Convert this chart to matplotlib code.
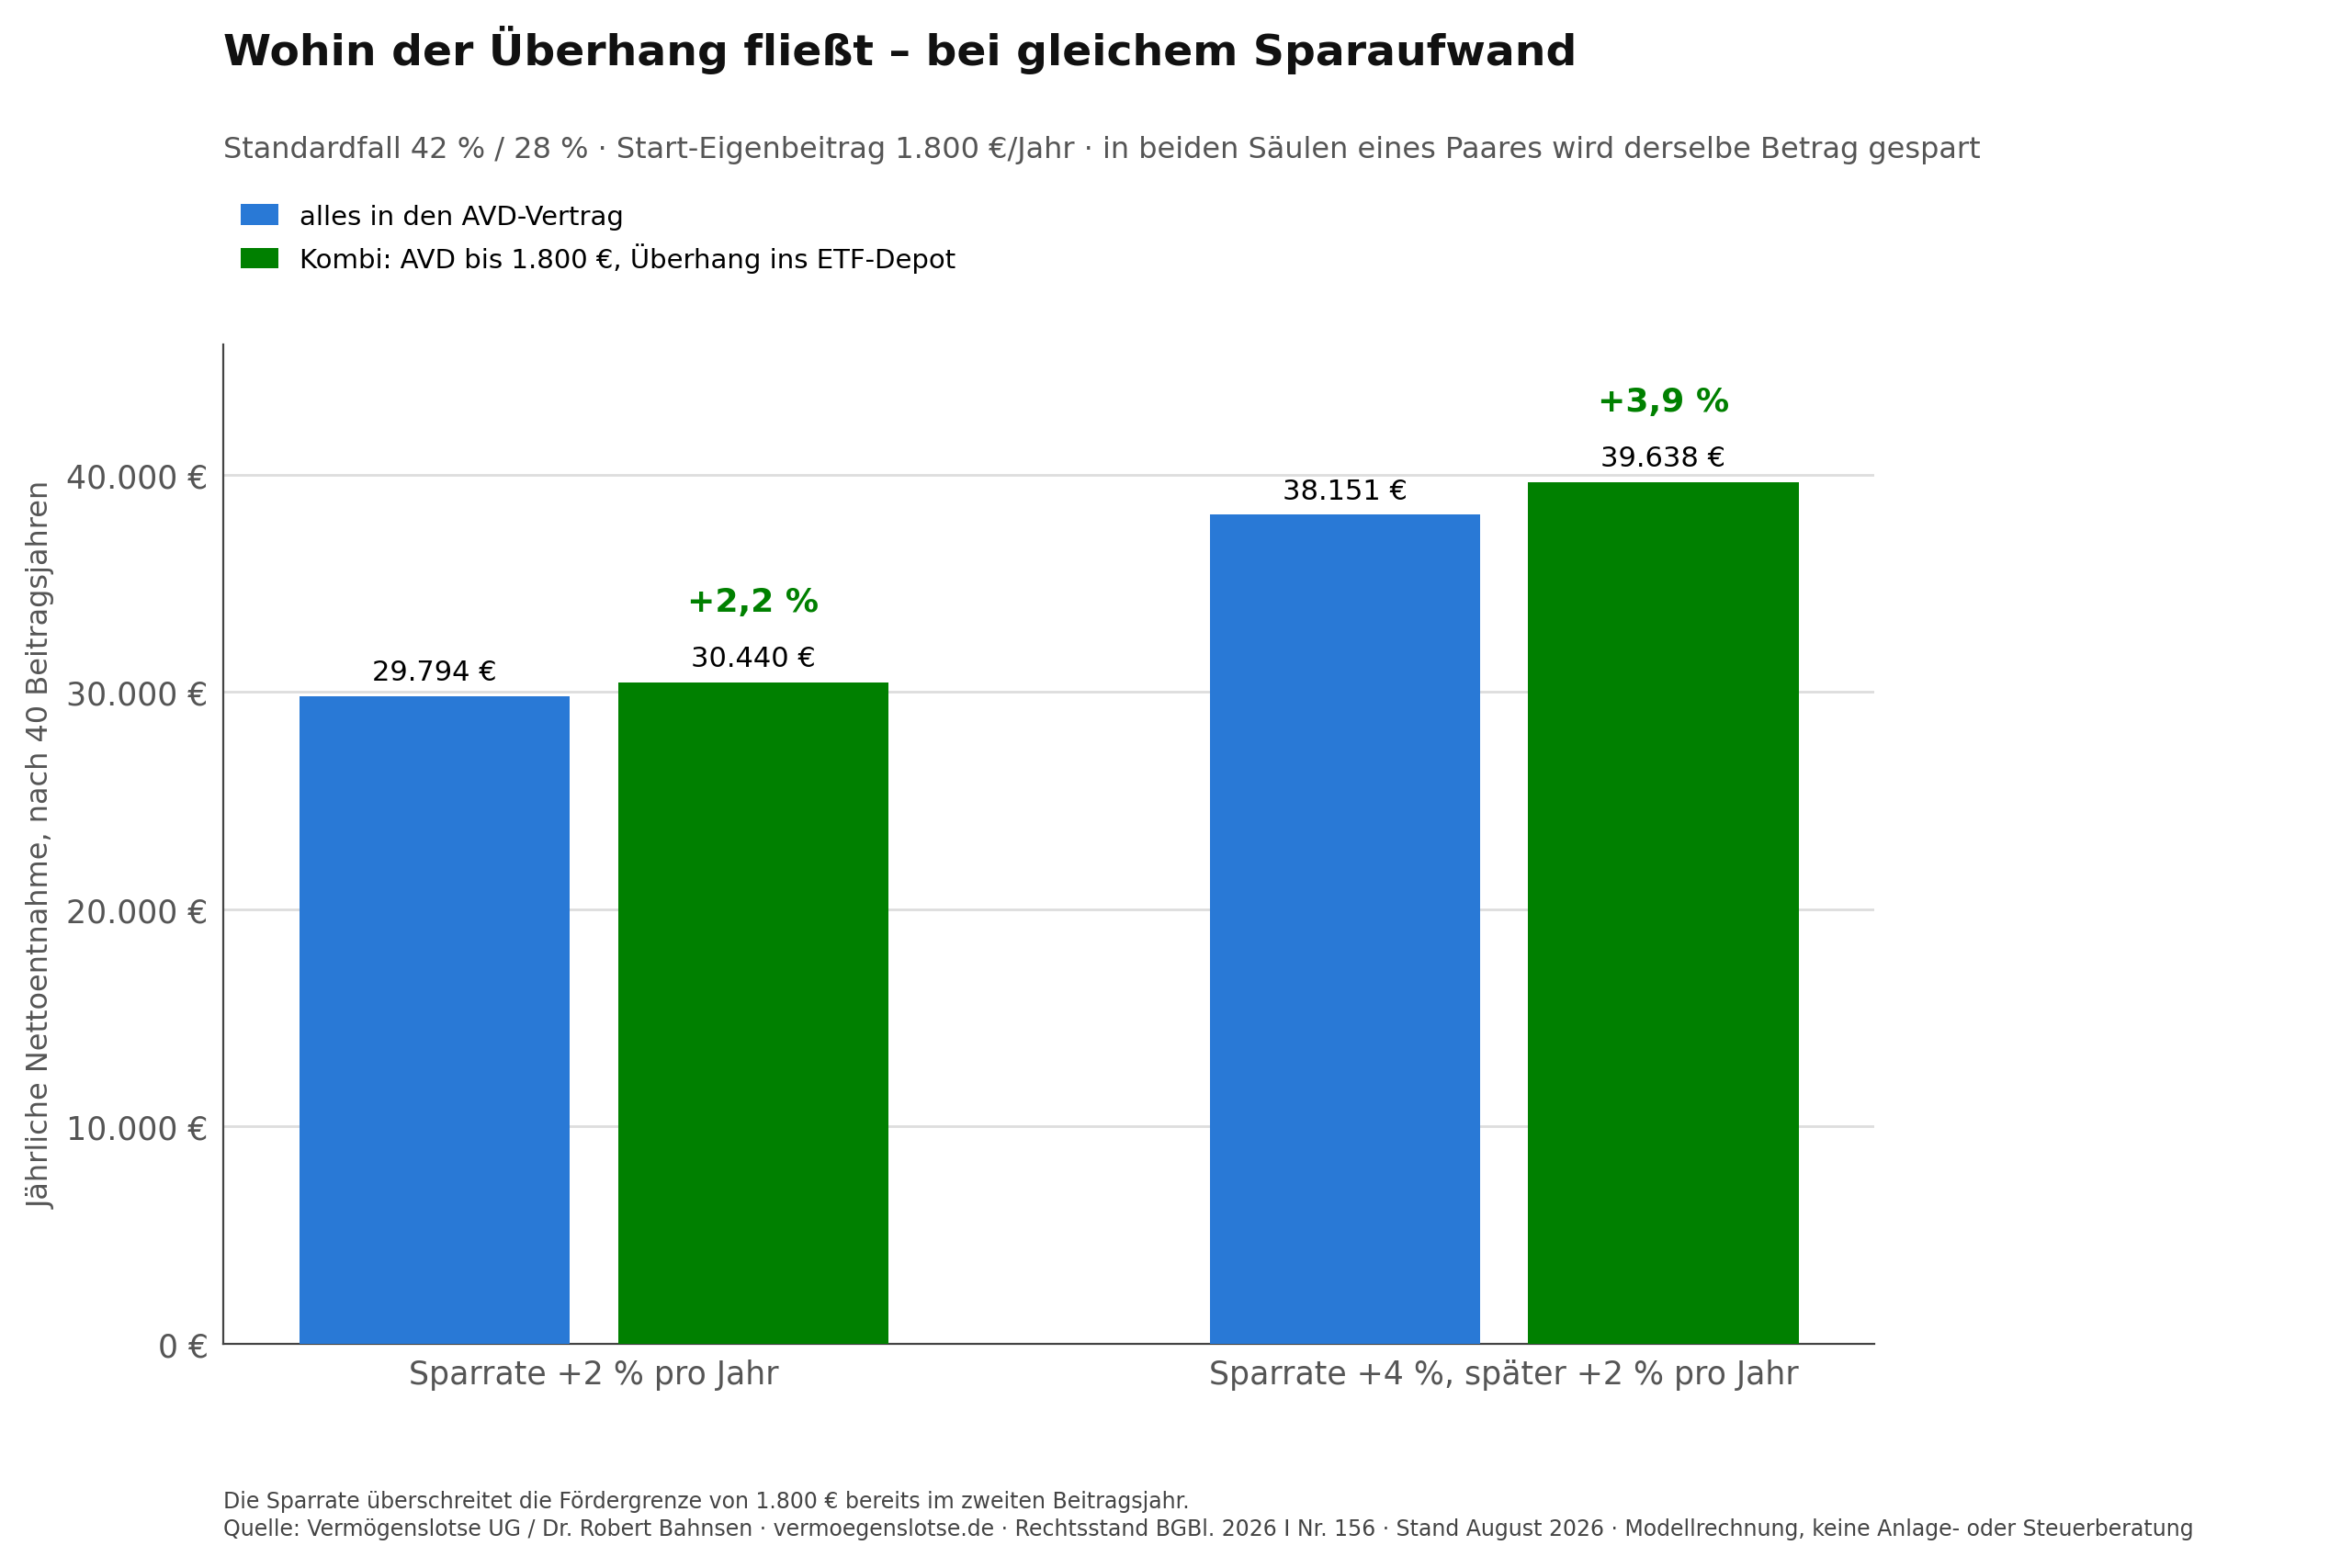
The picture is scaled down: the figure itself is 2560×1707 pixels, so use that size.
import matplotlib.pyplot as plt
import numpy as np

categories = ["Sparrate +2 % pro Jahr", "Sparrate +4 %, später +2 % pro Jahr"]
avd_values = [29794, 38151]
kombi_values = [30440, 39638]
gain_labels = ["+2,2 %", "+3,9 %"]
series_names = ["alles in den AVD-Vertrag", "Kombi: AVD bis 1.800 €, Überhang ins ETF-Depot"]
yticks = [0, 10000, 20000, 30000, 40000]

BLUE = "#2979d6"
GREEN = "#008000"


def fmt(v):
    return f"{v:,.0f}".replace(",", ".") + " €"


fig = plt.figure(figsize=(12.8, 8.54), dpi=200)
ax = fig.add_axes([0.095, 0.143, 0.702, 0.637])

x = np.arange(len(categories))
w = 0.297
off = 0.175
ax.bar(x - off, avd_values, w, color=BLUE, label=series_names[0], zorder=3)
ax.bar(x + off, kombi_values, w, color=GREEN, label=series_names[1], zorder=3)

for i in range(len(categories)):
    ax.text(x[i] - off, avd_values[i] + 500, fmt(avd_values[i]), ha="center", va="bottom", fontsize=11)
    ax.text(x[i] + off, kombi_values[i] + 500, fmt(kombi_values[i]), ha="center", va="bottom", fontsize=11)
    ax.text(x[i] + off, kombi_values[i] + 3000, gain_labels[i], ha="center", va="bottom",
            fontsize=13, fontweight="bold", color=GREEN)

ax.set_xlim(-0.407, 1.407)
ax.set_ylim(0, 46000)
ax.set_yticks(yticks)
ax.set_yticklabels([fmt(v) for v in yticks])
ax.set_xticks(x)
ax.set_xticklabels(categories)
ax.tick_params(axis="both", length=0, labelsize=12.5, labelcolor="#555555", pad=6)
ax.grid(axis="y", color="#dddddd", linewidth=1, zorder=0)
for s in ["top", "right"]:
    ax.spines[s].set_visible(False)
for s in ["left", "bottom"]:
    ax.spines[s].set_color("#444444")
ax.set_ylabel("Jährliche Nettoentnahme, nach 40 Beitragsjahren", fontsize=11.5, color="#555555")

fig.text(0.095, 0.968, "Wohin der Überhang fließt – bei gleichem Sparaufwand",
         fontsize=17, fontweight="bold", color="#111111", va="center")
fig.text(0.095, 0.904, "Standardfall 42 % / 28 % · Start-Eigenbeitrag 1.800 €/Jahr · in beiden Säulen eines Paares wird derselbe Betrag gespart",
         fontsize=11.5, color="#555555", va="center")
fig.legend(loc="upper left", bbox_to_anchor=(0.092, 0.885), frameon=False, fontsize=10.5,
           handlelength=1.4, handleheight=0.8, labelspacing=0.5)
fig.text(0.095, 0.043, "Die Sparrate überschreitet die Fördergrenze von 1.800 € bereits im zweiten Beitragsjahr.",
         fontsize=8.5, color="#444444", va="center")
fig.text(0.095, 0.025, "Quelle: Vermögenslotse UG / Dr. Robert Bahnsen · vermoegenslotse.de · Rechtsstand BGBl. 2026 I Nr. 156 · Stand August 2026 · Modellrechnung, keine Anlage- oder Steuerberatung",
         fontsize=8.5, color="#444444", va="center")

fig.savefig("out.png", dpi=200)
